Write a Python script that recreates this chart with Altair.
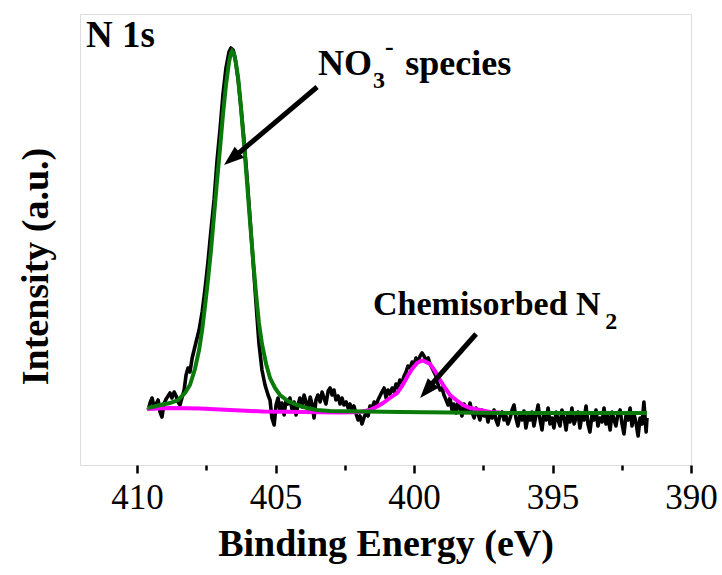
import altair as alt
import pandas as pd

# ---------------- data ----------------
# raw N 1s spectrum (binding energy eV, intensity a.u.)
be_raw = [409.60, 409.53, 409.46, 409.39, 409.31, 409.24, 409.17, 409.10, 409.03, 408.95,
          408.88, 408.81, 408.74, 408.66, 408.59, 408.52, 408.45, 408.38, 408.30, 408.23,
          408.16, 408.09, 408.01, 407.94, 407.87, 407.76, 407.65, 407.55, 407.44, 407.33,
          407.22, 407.11, 407.00, 406.90, 406.79, 406.68, 406.61, 406.53, 406.46, 406.35,
          406.25, 406.14, 406.03, 405.92, 405.81, 405.70, 405.60, 405.49, 405.38, 405.27,
          405.20, 405.13, 405.05, 404.98, 404.91, 404.84, 404.77, 404.69, 404.62, 404.55,
          404.48, 404.40, 404.33, 404.26, 404.19, 404.12, 404.04, 403.97, 403.90, 403.83,
          403.75, 403.68, 403.61, 403.54, 403.47, 403.39, 403.32, 403.25, 403.18, 403.10,
          403.03, 402.96, 402.89, 402.82, 402.74, 402.67, 402.60, 402.53, 402.45, 402.38,
          402.31, 402.24, 402.17, 402.09, 402.02, 401.95, 401.88, 401.81, 401.73, 401.66,
          401.59, 401.52, 401.44, 401.37, 401.30, 401.23, 401.16, 401.08, 401.01, 400.94,
          400.87, 400.79, 400.72, 400.65, 400.58, 400.51, 400.43, 400.36, 400.29, 400.22,
          400.14, 400.07, 400.00, 399.93, 399.86, 399.78, 399.71, 399.64, 399.57, 399.49,
          399.42, 399.35, 399.28, 399.21, 399.13, 399.06, 398.99, 398.92, 398.84, 398.77,
          398.70, 398.63, 398.56, 398.48, 398.41, 398.34, 398.27, 398.19, 398.12, 398.05,
          397.98, 397.91, 397.83, 397.76, 397.69, 397.62, 397.55, 397.47, 397.40, 397.33,
          397.26, 397.18, 397.11, 397.04, 396.97, 396.90, 396.82, 396.75, 396.68, 396.61,
          396.53, 396.46, 396.39, 396.32, 396.25, 396.17, 396.10, 396.03, 395.96, 395.88,
          395.81, 395.74, 395.67, 395.60, 395.52, 395.45, 395.38, 395.31, 395.23, 395.16,
          395.09, 395.02, 394.95, 394.87, 394.80, 394.73, 394.66, 394.58, 394.51, 394.44,
          394.37, 394.30, 394.22, 394.15, 394.08, 394.01, 393.94, 393.86, 393.79, 393.72,
          393.65, 393.57, 393.50, 393.43, 393.36, 393.29, 393.21, 393.14, 393.07, 393.00,
          392.92, 392.85, 392.78, 392.71, 392.64, 392.56, 392.49, 392.42, 392.35, 392.27,
          392.20, 392.13, 392.06, 391.99, 391.91, 391.84, 391.77, 391.70, 391.62, 391.59]
int_raw = [55, 62, 67, 59, 61, 65, 53, 48, 61, 66,
           69, 72, 67, 73, 69, 63, 60, 67, 75, 90,
           97, 93, 107, 115, 123, 135, 153, 175, 203, 235,
           265, 305, 337, 370, 397, 413, 417, 415, 407, 385,
           358, 325, 288, 246, 203, 160, 122, 95, 80, 70,
           65, 47, 40, 60, 67, 55, 62, 50, 65, 61,
           67, 55, 63, 50, 60, 67, 58, 70, 63, 55,
           68, 61, 47, 65, 70, 63, 73, 67, 61, 74,
           77, 70, 75, 65, 69, 61, 67, 60, 63, 57,
           61, 55, 59, 51, 45, 49, 41, 47, 53, 49,
           59, 57, 63, 59, 65, 69, 73, 77, 67, 75,
           71, 77, 73, 81, 77, 85, 82, 89, 93, 99,
           97, 103, 100, 107, 103, 109, 112, 109, 105, 107,
           101, 97, 93, 89, 80, 75, 77, 70, 65, 60,
           67, 55, 61, 52, 63, 58, 49, 61, 55, 53,
           62, 53, 47, 57, 51, 45, 55, 49, 53, 43,
           51, 47, 55, 45, 40, 50, 53, 45, 49, 41,
           47, 55, 60, 47, 39, 51, 45, 54, 37, 49,
           45, 53, 39, 49, 60, 45, 35, 51, 45, 57,
           41, 47, 37, 53, 45, 39, 55, 47, 35, 51,
           43, 57, 41, 47, 53, 37, 49, 45, 59, 41,
           33, 51, 45, 55, 39, 47, 43, 57, 41, 49,
           35, 53, 45, 39, 51, 55, 41, 31, 49, 45,
           57, 39, 51, 43, 29, 47, 41, 63, 33, 47]

# NO3- component fit (green)
be_fit1 = [409.60, 409.17, 408.81, 408.52, 408.27, 408.09, 407.91, 407.76, 407.65, 407.55,
           407.44, 407.33, 407.22, 407.11, 407.00, 406.90, 406.79, 406.68, 406.61, 406.57,
           406.50, 406.43, 406.35, 406.25, 406.14, 406.03, 405.92, 405.81, 405.70, 405.60,
           405.49, 405.34, 405.20, 405.02, 404.84, 404.55, 404.22, 403.86, 403.50, 403.03,
           400.51, 396.90, 391.59]
int_fit1 = [57, 60, 62, 65, 72, 80, 96, 115, 135, 158,
            185, 215, 250, 285, 318, 350, 380, 403, 412, 414,
            411, 402, 387, 358, 322, 283, 243, 205, 170, 142,
            121, 101, 87, 77, 70, 64, 60, 57, 55, 54,
            53, 52, 52]

# chemisorbed N2 component fit (magenta)
be_fit2 = [409.64, 408.81, 407.73, 406.64, 405.45, 404.01, 402.67, 401.95, 401.59, 401.30,
           401.12, 400.87, 400.61, 400.43, 400.25, 400.07, 399.89, 399.75, 399.68, 399.57,
           399.42, 399.24, 399.06, 398.88, 398.70, 398.48, 398.23, 397.98, 397.62, 397.26,
           396.90]
int_fit2 = [56, 57, 56.5, 55, 53.5, 53, 52.5, 53, 55, 59,
            62, 67, 72, 79, 88, 96, 102, 104, 104.5, 103,
            101, 94, 85, 77, 70, 65, 60, 57, 55, 53,
            52.5]

x_ticks = [410, 407.5, 405, 402.5, 400, 397.5, 395, 392.5, 390]

# annotation texts
ann_text = ["N 1s", "NO", "3", "-", "species", "Chemisorbed N", "2"]
ann_be = [411.84, 403.47, 401.48, 401.05, 400.32, 401.48, 393.10]
ann_int = [418, 390, 377, 410, 390, 150, 136]
ann_size = [37, 36, 24, 26, 36, 34, 24]

# arrows: tail -> head
arr_be_tail = [403.50, 397.76]
arr_int_tail = [378, 131]
arr_be_shaft = [406.58, 399.55]
arr_int_shaft = [306, 75]
arr_be_tip = [406.86, 399.78]
arr_int_tip = [300, 67]
arr_angle = [230, 221]

# ---------------- chart ----------------
FONT = "Liberation Serif"
xscale = alt.Scale(domain=[390, 412.06], reverse=True, nice=False, zero=False)
yscale = alt.Scale(domain=[0, 451], nice=False, zero=False)

xaxis = alt.Axis(
    title="Binding Energy (eV)", values=x_ticks,
    labelExpr="datum.value % 5 === 0 ? datum.label : ''",
    tickSize={"expr": "datum.value % 5 === 0 ? 8 : 5"},
    tickWidth=2.5, tickColor="black", domain=False, grid=False,
    labelFont=FONT, labelFontSize=35, labelColor="black", labelPadding=7,
    labelFlush=False, labelOverlap=False,
    titleFont=FONT, titleFontSize=38, titleFontWeight="bold", titleColor="black",
    titlePadding=10,
)
yaxis = alt.Axis(
    title="Intensity (a.u.)", labels=False, ticks=False, domain=False, grid=False,
    titleFont=FONT, titleFontSize=38, titleFontWeight="bold", titleColor="black",
    titlePadding=25, titleY=252,
)


def X(f):
    return alt.X(f, type="quantitative", scale=xscale, axis=xaxis)


def Y(f):
    return alt.Y(f, type="quantitative", scale=yscale, axis=yaxis)


raw_df = pd.DataFrame({"be": be_raw, "inten": int_raw})
f1_df = pd.DataFrame({"be": be_fit1, "inten": int_fit1})
f2_df = pd.DataFrame({"be": be_fit2, "inten": int_fit2})
ann_df = pd.DataFrame({"be": ann_be, "inten": ann_int, "txt": ann_text, "fs": ann_size})
arr_df = pd.DataFrame({"be": arr_be_tail, "inten": arr_int_tail,
                       "be2": arr_be_shaft, "inten2": arr_int_shaft})
tip_df = pd.DataFrame({"be": arr_be_tip, "inten": arr_int_tip, "ang": arr_angle})

raw = alt.Chart(raw_df).mark_line(color="black", strokeWidth=3.6, strokeJoin="round").encode(
    x=X("be"), y=Y("inten"), order=alt.Order("be:Q", sort="descending"))
fit2 = alt.Chart(f2_df).mark_line(color="#ff00ff", strokeWidth=4).encode(
    x=X("be"), y=Y("inten"))
fit1 = alt.Chart(f1_df).mark_line(color="#0a7a0a", strokeWidth=4).encode(
    x=X("be"), y=Y("inten"))
shafts = alt.Chart(arr_df).mark_rule(color="black", strokeWidth=5).encode(
    x=X("be"), y=Y("inten"), x2="be2", y2="inten2")
tips = alt.Chart(tip_df).mark_point(
    shape="M0,0 L-0.36,1 L0.36,1 Z", filled=True, color="black", opacity=1, size=1600
).encode(x=X("be"), y=Y("inten"), angle=alt.Angle("ang:Q", scale=None))
texts = alt.Chart(ann_df).mark_text(
    align="left", baseline="alphabetic", font=FONT, fontWeight="bold", color="black"
).encode(x=X("be"), y=Y("inten"), text="txt:N", size=alt.Size("fs:Q", scale=None))

chart = alt.layer(raw, fit2, fit1, shafts, tips, texts).properties(
    width=611, height=451,
    autosize=alt.AutoSizeParams(type="none"),
    padding={"left": 80, "top": 14, "right": 31, "bottom": 110},
).configure_view(stroke="black", strokeWidth=2.5).configure(background="white")

chart.save("out.html", embed_options={"renderer": "svg", "actions": False})
